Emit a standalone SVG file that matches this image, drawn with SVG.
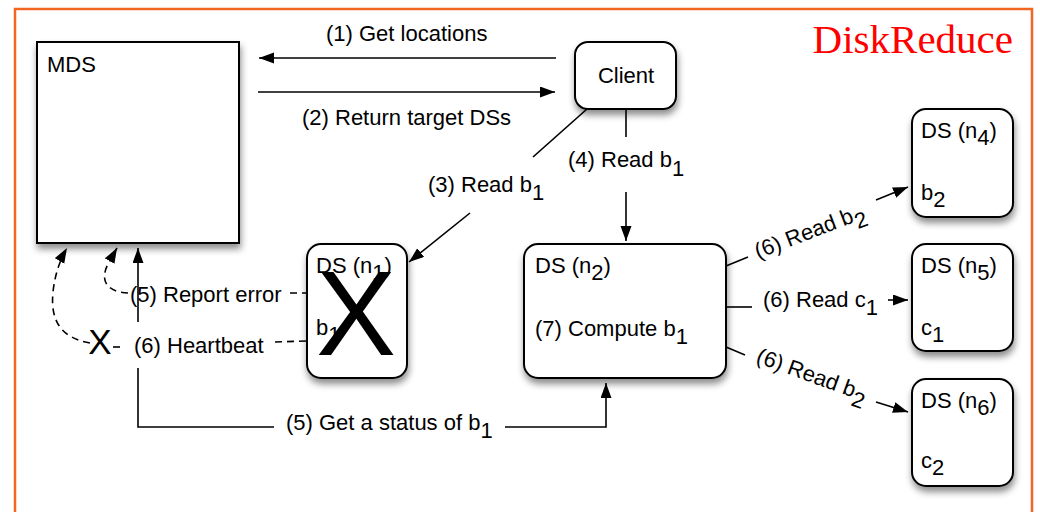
<svg xmlns="http://www.w3.org/2000/svg" width="1040" height="512" viewBox="0 0 1040 512">
<style>
text{font-family:"Liberation Sans",Arial,sans-serif;font-size:22px;fill:#000}
.box{fill:#fff;stroke:#000;stroke-width:2;filter:url(#sh)}
.ln{fill:none;stroke:#000;stroke-width:1.6}
.dash{fill:none;stroke:#000;stroke-width:1.6;stroke-dasharray:7,5}
</style>
<defs>
<filter id="sh" x="-20%" y="-20%" width="140%" height="150%">
<feDropShadow dx="1" dy="5" stdDeviation="3.5" flood-color="#000" flood-opacity="0.45"/>
</filter>
<marker id="ah" markerUnits="userSpaceOnUse" markerWidth="16" markerHeight="12" refX="15" refY="5.5" orient="auto">
<path d="M0,0 L15,5.5 L0,11 z" fill="#000"/>
</marker>
</defs>
<rect x="0" y="0" width="1040" height="512" fill="#fff"/>
<rect x="15" y="9" width="1017" height="520" fill="none" stroke="#F26522" stroke-width="2.5"/>
<text x="1013" y="53" text-anchor="end" style="font-family:'Liberation Serif','Times New Roman',serif;font-size:41px;fill:#FF0000">DiskReduce</text>

<g id="connectors">
<line class="ln" x1="556" y1="58" x2="259" y2="58" marker-end="url(#ah)"/>
<text x="326" y="41">(1) Get locations</text>
<line class="ln" x1="258" y1="92" x2="555" y2="92" marker-end="url(#ah)"/>
<text x="302" y="125">(2) Return target DSs</text>

<line class="ln" x1="587" y1="109" x2="533" y2="157"/>
<text x="428" y="192">(3) Read b<tspan dy="8">1</tspan></text>
<line class="ln" x1="470" y1="213" x2="409" y2="262" marker-end="url(#ah)"/>

<line class="ln" x1="626" y1="109" x2="626" y2="137"/>
<text x="568" y="167">(4) Read b<tspan dy="9">1</tspan></text>
<line class="ln" x1="626" y1="192" x2="626" y2="241" marker-end="url(#ah)"/>

<line class="dash" x1="290" y1="293" x2="307" y2="293"/>
<text x="130" y="302">(5) Report error</text>
<path class="dash" d="M128,293 C108,292 99,282 108,264 L117,248" marker-end="url(#ah)"/>

<line class="dash" x1="275" y1="342" x2="307" y2="341"/>
<text x="134" y="353">(6) Heartbeat</text>
<line class="dash" x1="113" y1="347" x2="124" y2="347"/>
<path class="dash" d="M90,343 C62,338 50,322 53,292 C55,274 60,260 67,248" marker-end="url(#ah)"/>
<text x="100" y="354" text-anchor="middle" style="font-size:35px">X</text>

<line class="ln" x1="138" y1="322" x2="138" y2="248" marker-end="url(#ah)"/>
<path class="ln" d="M138,368 L138,427 L274,427"/>
<text x="286" y="430">(5) Get a status of b<tspan dy="8">1</tspan></text>
<path class="ln" d="M505,427 L606,427 L606,383" marker-end="url(#ah)"/>

<line class="ln" x1="726" y1="266" x2="748" y2="257"/>
<text transform="translate(758,259) rotate(-21)">(6) Read b<tspan dy="8">2</tspan></text>
<line class="ln" x1="876" y1="200" x2="908" y2="187" marker-end="url(#ah)"/>

<line class="ln" x1="726" y1="307" x2="752" y2="307"/>
<text x="763" y="307">(6) Read c<tspan dy="8">1</tspan></text>
<line class="ln" x1="888" y1="300" x2="908" y2="300" marker-end="url(#ah)"/>

<line class="ln" x1="726" y1="347" x2="745" y2="355"/>
<text transform="translate(755,362) rotate(20)">(6) Read b<tspan dy="8">2</tspan></text>
<line class="ln" x1="876" y1="402" x2="908" y2="412" marker-end="url(#ah)"/>
</g>

<g id="mds">
<rect class="box" x="37" y="42" width="202" height="201"/>
<text x="47" y="72">MDS</text>
</g>
<g id="client">
<rect class="box" x="575" y="42" width="101" height="67" rx="13"/>
<text x="626" y="83" text-anchor="middle">Client</text>
</g>
<g id="ds-n1">
<rect class="box" x="307" y="244" width="100" height="134" rx="14"/>
<text x="316" y="273">DS (n<tspan dy="7">1</tspan><tspan dy="-7">)</tspan></text>
<text x="316" y="335">b<tspan dy="7">1</tspan></text>
<text x="356" y="355" text-anchor="middle" style="font-size:120px">X</text>
</g>
<g id="ds-n2">
<rect class="box" x="524" y="244" width="202" height="134" rx="14"/>
<text x="535" y="273">DS (n<tspan dy="7">2</tspan><tspan dy="-7">)</tspan></text>
<text x="535" y="336">(7) Compute b<tspan dy="8">1</tspan></text>
</g>
<g id="ds-n4">
<rect class="box" x="912" y="109" width="101" height="108" rx="14"/>
<text x="921" y="138">DS (n<tspan dy="7">4</tspan><tspan dy="-7">)</tspan></text>
<text x="921" y="200">b<tspan dy="7">2</tspan></text>
</g>
<g id="ds-n5">
<rect class="box" x="912" y="244" width="101" height="107" rx="14"/>
<text x="921" y="273">DS (n<tspan dy="7">5</tspan><tspan dy="-7">)</tspan></text>
<text x="921" y="335">c<tspan dy="7">1</tspan></text>
</g>
<g id="ds-n6">
<rect class="box" x="912" y="379" width="101" height="107" rx="14"/>
<text x="921" y="408">DS (n<tspan dy="7">6</tspan><tspan dy="-7">)</tspan></text>
<text x="921" y="468">c<tspan dy="7">2</tspan></text>
</g>
</svg>
